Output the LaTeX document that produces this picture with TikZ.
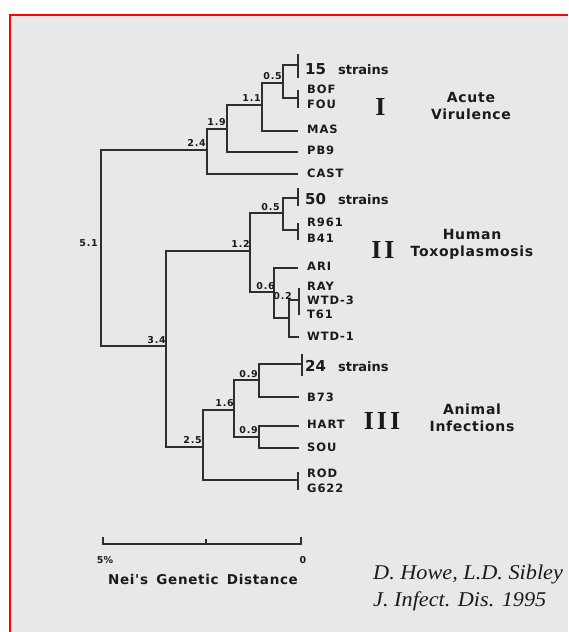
\documentclass[tikz,border=0pt]{standalone}
\usepackage{fontspec}
\setmainfont{DejaVu Sans}
\newfontfamily\labfont[LetterSpace=8]{DejaVu Sans}
\newfontfamily\bsfont[LetterSpace=8]{DejaVu Sans}
\newfontfamily\grpfont[LetterSpace=5]{DejaVu Sans}
\newfontfamily\romfont{Liberation Serif}
\newfontfamily\citefont[FakeStretch=1.06]{Liberation Serif}
\usetikzlibrary{calc}
\definecolor{bg}{HTML}{E8E8E8}
\definecolor{ln}{HTML}{2E2E2E}
\definecolor{txt}{HTML}{1A1A1A}
\tikzset{
  branch/.style={draw=ln, line width=2pt},
  leaf/.style={anchor=west, inner sep=0pt, text=txt, font=\labfont\bfseries\fontsize{11.5}{13}\selectfont},
  big/.style={anchor=west, inner sep=0pt, text=txt, font=\bfseries\fontsize{15}{16}\selectfont},
  bs/.style={anchor=south east, inner sep=0pt, text=txt, font=\bsfont\bfseries\fontsize{9.5}{10}\selectfont},
  grp/.style={align=center, inner sep=0pt, text=txt, font=\grpfont\bfseries\fontsize{14}{17}\selectfont},
  rom/.style={inner sep=0pt, text=txt, font=\romfont\bfseries\fontsize{26}{28}\selectfont},
  cite/.style={anchor=west, inner sep=0pt, text=txt, font=\citefont\itshape\fontsize{21}{23}\selectfont},
  sbar/.style={draw=ln, line width=1.6pt},
}
\begin{document}
\begin{tikzpicture}[x=1pt,y=-1pt]
\useasboundingbox (0,0) rectangle (568,632);
\fill[white] (0,0) rectangle (568,632);
\fill[bg] (10,15) rectangle (568,632);
\draw[red, line width=1.5pt] (10,632) -- (10,15) -- (568,15);

% internal nodes
\coordinate (R) at (101,245);
\coordinate (n24) at (207,150);
\coordinate (n19) at (227,129);
\coordinate (n11) at (262,105);
\coordinate (n05a) at (283,83);
\coordinate (n34) at (166,346);
\coordinate (n12) at (250,251);
\coordinate (n05b) at (283,213);
\coordinate (n06) at (274,292);
\coordinate (n02) at (289,318);
\coordinate (n25) at (203,447);
\coordinate (n16) at (234,410);
\coordinate (n09a) at (259,380);
\coordinate (n09b) at (259,437);
% leaves
\coordinate (l15) at (298,65);
\coordinate (lBF) at (298,98);
\coordinate (lMAS) at (298,131);
\coordinate (lPB9) at (298,152);
\coordinate (lCAST) at (298,174);
\coordinate (l50) at (298,198);
\coordinate (lRB) at (298,230);
\coordinate (lARI) at (298,268);
\coordinate (lRWT) at (299,300);
\coordinate (lW1) at (299,337);
\coordinate (l24) at (302,364);
\coordinate (lB73) at (299,397);
\coordinate (lHART) at (299,426);
\coordinate (lSOU) at (299,448);
\coordinate (lRG) at (298,480);

% branches
\draw[branch] (R) |- (n24);
\draw[branch] (R) |- (n34);
\draw[branch] (n24) |- (n19);
\draw[branch] (n24) |- (lCAST);
\draw[branch] (n19) |- (n11);
\draw[branch] (n19) |- (lPB9);
\draw[branch] (n11) |- (n05a);
\draw[branch] (n11) |- (lMAS);
\draw[branch] (n05a) |- (l15);
\draw[branch] (n05a) |- (lBF);
\draw[branch] (n34) |- (n12);
\draw[branch] (n34) |- (n25);
\draw[branch] (n12) |- (n05b);
\draw[branch] (n12) |- (n06);
\draw[branch] (n05b) |- (l50);
\draw[branch] (n05b) |- (lRB);
\draw[branch] (n06) |- (lARI);
\draw[branch] (n06) |- (n02);
\draw[branch] (n02) |- (lRWT);
\draw[branch] (n02) |- (lW1);
\draw[branch] (n25) |- (n16);
\draw[branch] (n25) |- (lRG);
\draw[branch] (n16) |- (n09a);
\draw[branch] (n16) |- (n09b);
\draw[branch] (n09a) |- (l24);
\draw[branch] (n09a) |- (lB73);
\draw[branch] (n09b) |- (lHART);
\draw[branch] (n09b) |- (lSOU);

% collapsed-group ticks
\draw[branch] (l15) ++(0,-11) -- ++(0,24);
\draw[branch] (lBF) ++(0,-8) -- ++(0,18);
\draw[branch] (l50) ++(0,-10) -- ++(0,18);
\draw[branch] (lRB) ++(0,-7) -- ++(0,17);
\draw[branch] (lRWT) ++(0,-12) -- ++(0,27);
\draw[branch] (l24) ++(0,-10) -- ++(0,22);
\draw[branch] (lRG) ++(0,-8) -- ++(0,18);

% branch values
\node[anchor=east, inner sep=0pt, text=txt, font=\bsfont\bfseries\fontsize{9.5}{10}\selectfont] (b51) at (98,243) {5.1};
\node[bs] (b24) at ($(n24)+(-1,-3)$) {2.4};
\node[bs] (b19) at ($(n19)+(-1,-3)$) {1.9};
\node[bs] (b11) at ($(n11)+(-1,-3)$) {1.1};
\node[bs] (b05a) at ($(n05a)+(-1,-3)$) {0.5};
\node[bs] (b34) at ($(n34)+(0,-2)$) {3.4};
\node[bs] (b12) at ($(n12)+(0,-3)$) {1.2};
\node[bs] (b05b) at ($(n05b)+(-3,-2)$) {0.5};
\node[bs] (b06) at ($(n06)+(1,-2)$) {0.6};
\node[bs] (b02) at ($(n02)+(3,-18)$) {0.2};
\node[bs] (b25) at ($(n25)+(-1,-3)$) {2.5};
\node[bs] (b16) at ($(n16)+(0,-3)$) {1.6};
\node[bs] (b09a) at ($(n09a)+(-1,-2)$) {0.9};
\node[bs] (b09b) at ($(n09b)+(-1,-3)$) {0.9};

% leaf labels
\node[big] (t15) at (305,69) {15\hspace{12pt}{\fontsize{13}{15}\selectfont strains}};
\node[leaf] (tBOF) at (307,89) {BOF};
\node[leaf] (tFOU) at (307,104) {FOU};
\node[leaf] (tMAS) at (307,129) {MAS};
\node[leaf] (tPB9) at (307,150) {PB9};
\node[leaf] (tCAST) at (307,173) {CAST};
\node[big] (t50) at (305,199) {50\hspace{12pt}{\fontsize{13}{15}\selectfont strains}};
\node[leaf] (tR961) at (307,222) {R961};
\node[leaf] (tB41) at (307,238) {B41};
\node[leaf] (tARI) at (307,266) {ARI};
\node[leaf] (tRAY) at (307,286) {RAY};
\node[leaf] (tWTD3) at (307,300) {WTD-3};
\node[leaf] (tT61) at (307,314) {T61};
\node[leaf] (tWTD1) at (307,336) {WTD-1};
\node[big] (t24) at (305,366) {24\hspace{12pt}{\fontsize{13}{15}\selectfont strains}};
\node[leaf] (tB73) at (307,397) {B73};
\node[leaf] (tHART) at (307,424) {HART};
\node[leaf] (tSOU) at (307,447) {SOU};
\node[leaf] (tROD) at (307,473) {ROD};
\node[leaf] (tG622) at (307,488) {G622};

% groups
\node[rom] (rI) at (380.5,107) {I};
\node[rom] (rII) at (383,250) {I\hspace{3pt}I};
\node[rom] (rIII) at (382,421) {I\hspace{3pt}I\hspace{3pt}I};
\node[grp] (gI) at (471,106) {Acute\\Virulence};
\node[grp] (gII) at (472,244) {Human\\Toxoplasmosis};
\node[grp] (gIII) at (472,418) {Animal\\Infections};

% scale bar
\coordinate (sbL) at (103,544);
\coordinate (sbM) at (206,544);
\coordinate (sbR) at (301,544);
\draw[sbar] (sbL) ++(0,-7) -- (sbL) -- (sbR) -- ++(0,-7);
\draw[sbar] (sbM) ++(0,-5) -- ++(0,6);
\node[inner sep=0pt, text=txt, font=\fontsize{9.5}{10}\selectfont\bfseries] (s5) at (105,560) {5\%};
\node[inner sep=0pt, text=txt, font=\fontsize{9.5}{10}\selectfont\bfseries] (s0) at (303,560) {0};
\node[inner sep=0pt, text=txt, font=\grpfont\bfseries\fontsize{13.5}{15}\selectfont] (nei) at (203,579) {Nei's\hspace{3pt} Genetic\hspace{3pt} Distance};

% citation
\node[cite] (c1) at (373,574) {D. Howe, L.D. Sibley};
\node[cite] (c2) at (373,601) {J. Infect. Dis. 1995};
\end{tikzpicture}
\end{document}
